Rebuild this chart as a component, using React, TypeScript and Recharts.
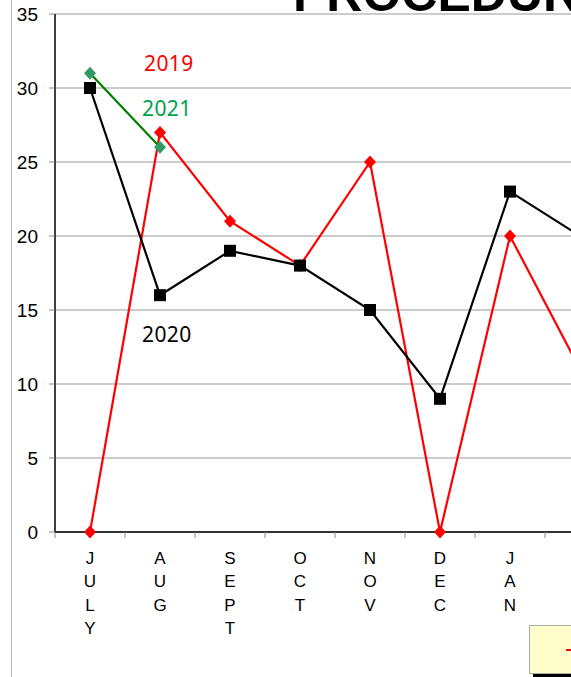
import { LineChart, Line, XAxis, YAxis, CartesianGrid } from 'recharts'

// monthly procedure counts, fiscal year starting in July
const months = ['JULY', 'AUG', 'SEPT', 'OCT', 'NOV', 'DEC', 'JAN', 'FEB']
const y2019 = [0, 27, 21, 18, 25, 0, 20, 11]
const y2020 = [30, 16, 19, 18, 15, 9, 23, 20]
const y2021 = [31, 26, null, null, null, null, null, null]
const yTicks = [0, 5, 10, 15, 20, 25, 30, 35]

const series = [
  { key: 'y2019', name: '2019', stroke: '#ff0000', marker: '#ff0000', shape: 'diamond' },
  { key: 'y2020', name: '2020', stroke: '#000000', marker: '#000000', shape: 'square' },
  { key: 'y2021', name: '2021', stroke: '#008000', marker: '#339966', shape: 'diamond' },
]

const data = months.map((m, i) => ({
  month: m,
  y2019: y2019[i],
  y2020: y2020[i],
  y2021: y2021[i],
}))

const AXIS_FONT = '"Liberation Sans", Arial, sans-serif'
const HALF_BAND = 35

function makeDot(shape: string, color: string) {
  return (props: any) => {
    const { cx, cy, index, value } = props
    if (value == null || cx == null || cy == null) return <g key={index} />
    if (shape === 'square') {
      return <rect key={index} x={cx - 6} y={cy - 6} width={12} height={12} fill={color} />
    }
    return (
      <path
        key={index}
        d={`M${cx},${cy - 6.5}L${cx + 6},${cy}L${cx},${cy + 6.5}L${cx - 6},${cy}Z`}
        fill={color}
      />
    )
  }
}

// stacked letters under each month, tick mark on the category boundary
function MonthTick(props: any) {
  const { x, y, payload } = props
  const letters: string[] = String(payload.value).split('')
  return (
    <g>
      <line x1={x - HALF_BAND} y1={y} x2={x - HALF_BAND} y2={y + 6} stroke="#888" />
      <text x={x} y={y + 32} textAnchor="middle" fontSize={17} fontFamily={AXIS_FONT} fill="#000">
        {letters.map((ch, i) => (
          <tspan key={i} x={x} dy={i === 0 ? 0 : 23.3}>{ch}</tspan>
        ))}
      </text>
    </g>
  )
}

export default function App() {
  return (
    <div style={{ position: 'absolute', left: 0, top: 0, width: 571, height: 677, overflow: 'hidden', background: '#fff' }}>
      <LineChart
        width={620}
        height={677}
        data={data}
        margin={{ top: 14, right: 5, bottom: 0, left: 0 }}
      >
        <CartesianGrid vertical={false} stroke="#999" />
        <XAxis
          dataKey="month"
          interval={0}
          padding={{ left: HALF_BAND, right: HALF_BAND }}
          height={145}
          tickSize={0}
          tickMargin={0}
          tickLine={false}
          axisLine={{ stroke: '#000', strokeWidth: 1.5 }}
          tick={<MonthTick />}
        />
        <YAxis
          width={55}
          domain={[0, 35]}
          ticks={yTicks}
          interval={0}
          tickSize={6}
          tickMargin={11}
          tickLine={{ stroke: '#888' }}
          axisLine={{ stroke: '#000', strokeWidth: 1.5 }}
          tick={{ fontSize: 19, fill: '#000', fontFamily: AXIS_FONT }}
        />
        {series.map((s) => (
          <Line
            key={s.key}
            dataKey={s.key}
            name={s.name}
            stroke={s.stroke}
            strokeWidth={2.2}
            dot={makeDot(s.shape, s.marker)}
            activeDot={false}
            connectNulls={false}
            isAnimationActive={false}
          />
        ))}
      </LineChart>

      {/* frame edge, clipped title and series captions */}
      <svg
        width={571}
        height={677}
        style={{ position: 'absolute', left: 0, top: 0, pointerEvents: 'none' }}
      >
        <line x1={11.5} y1={0} x2={11.5} y2={677} stroke="#bbb" />
        <text x={293} y={11} fontSize={50} fontWeight="bold" fontFamily={AXIS_FONT} fill="#000">
          PROCEDURES
        </text>
        <g fontFamily='"Noto Sans", sans-serif' fontSize={21} letterSpacing={0.4}>
          <text x={144} y={71} fill="#ff0000">2019</text>
          <text x={142} y={116} fill="#00a050">2021</text>
          <text x={142} y={342} fill="#000">2020</text>
        </g>
      </svg>

      {/* legend box */}
      <div
        style={{
          position: 'absolute',
          left: 529,
          top: 625,
          height: 47,
          display: 'flex',
          alignItems: 'center',
          gap: 14,
          padding: '0 10px 0 36px',
          background: '#ffffcc',
          border: '1px solid #aaa',
          boxShadow: '4px 4px 0 #000',
          fontFamily: AXIS_FONT,
          fontSize: 14,
          whiteSpace: 'nowrap',
        }}
      >
        {series.map((s) => (
          <span key={s.key} style={{ display: 'flex', alignItems: 'center', gap: 6 }}>
            <span style={{ display: 'inline-block', width: 24, height: 2, background: s.stroke }} />
            {s.name}
          </span>
        ))}
      </div>
    </div>
  )
}
